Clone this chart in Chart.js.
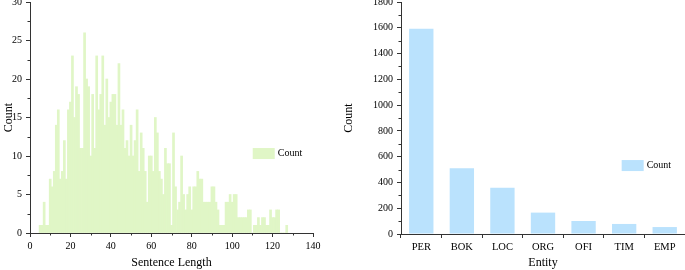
<!DOCTYPE html>
<html>
<head>
<meta charset="utf-8">
<script src="https://cdn.jsdelivr.net/npm/chart.js@4.4.1/dist/chart.umd.min.js"></script>
<style>
  html, body { margin: 0; padding: 0; background: #fff; }
  #wrap { position: relative; width: 685px; height: 270px; }
  #lenBox { position: absolute; left: 0; top: 0; width: 340px; height: 270px; }
  #entBox { position: absolute; left: 340px; top: 0; width: 345px; height: 270px; }
</style>
</head>
<body>
<div id="wrap">
  <div id="lenBox"><canvas id="len-chart"></canvas></div>
  <div id="entBox"><canvas id="entity-chart"></canvas></div>
</div>
<script>
// left: sentence length histogram
const sentenceLengths = [
  5, 6, 7, 8, 9, 10, 11, 12, 13, 14,
  15, 16, 17, 18, 19, 20, 21, 22, 23, 24,
  25, 26, 27, 28, 29, 30, 31, 32, 33, 34,
  35, 36, 37, 38, 39, 40, 41, 42, 43, 44,
  45, 46, 47, 48, 49, 50, 51, 52, 53, 54,
  55, 56, 57, 58, 59, 60, 61, 62, 63, 64,
  65, 66, 67, 68, 69, 70, 71, 72, 73, 74,
  75, 76, 77, 78, 79, 80, 81, 82, 83, 84,
  85, 86, 87, 88, 89, 90, 91, 92, 93, 94,
  95, 96, 97, 98, 99, 100, 101, 102, 103, 104,
  105, 106, 107, 108, 109, 110, 111, 112, 113, 114,
  115, 116, 117, 118, 119, 120, 121, 122, 123, 124,
  125, 126, 127
];
const lengthCounts = [
  1, 1, 4, 1, 1, 7, 6, 8, 14, 16,
  7, 8, 12, 7, 16, 17, 23, 15, 19, 18,
  11, 11, 26, 20, 19, 10, 18, 11, 23, 16,
  18, 23, 14, 20, 15, 17, 18, 18, 14, 22,
  14, 16, 11, 12, 10, 14, 10, 12, 16, 8,
  13, 11, 8, 4, 10, 10, 8, 15, 13, 8,
  7, 5, 11, 9, 9, 1, 13, 6, 3, 4,
  10, 5, 3, 5, 6, 3, 6, 6, 8, 7,
  7, 4, 4, 4, 4, 6, 6, 4, 3, 1,
  1, 1, 4, 4, 5, 4, 5, 5, 2, 2,
  2, 2, 2, 3, 3, 0, 1, 1, 2, 1,
  2, 2, 1, 1, 3, 2, 2, 3, 3, 0,
  0, 0, 1
];
const lengthXTicks = [0, 20, 40, 60, 80, 100, 120, 140];
const lengthXMinor = [10, 30, 50, 70, 90, 110, 130];
const lengthYTicks = [0, 5, 10, 15, 20, 25, 30];
const lengthYMinor = [2.5, 7.5, 12.5, 17.5, 22.5, 27.5];

// right: entity counts
const entityNames = ['PER', 'BOK', 'LOC', 'ORG', 'OFI', 'TIM', 'EMP'];
const entityCounts = [1592, 511, 358, 166, 101, 78, 54];
const entityYTicks = [0, 200, 400, 600, 800, 1000, 1200, 1400, 1600, 1800];
const entityYMinor = [100, 300, 500, 700, 900, 1100, 1300, 1500, 1700];

const AXIS = '#333';
const GREEN = '#e0f6c6';
const BLUE = '#bae2fd';

Chart.defaults.font.family = '"Liberation Serif", "Times New Roman", serif';
Chart.defaults.color = '#000';

// small outward ticks between the labelled ones
const minorTicks = {
  id: 'minorTicks',
  afterDraw(chart, args, opts) {
    const ctx = chart.ctx;
    const area = chart.chartArea;
    ctx.save();
    ctx.strokeStyle = AXIS;
    ctx.lineWidth = 1;
    (opts.x || []).forEach(v => {
      const px = Math.round(chart.scales.x.getPixelForValue(v)) + 0.5;
      ctx.beginPath();
      ctx.moveTo(px, area.bottom);
      ctx.lineTo(px, area.bottom + 2.5);
      ctx.stroke();
    });
    (opts.y || []).forEach(v => {
      const py = Math.round(chart.scales.y.getPixelForValue(v)) + 0.5;
      ctx.beginPath();
      ctx.moveTo(area.left, py);
      ctx.lineTo(area.left - 2.5, py);
      ctx.stroke();
    });
    ctx.restore();
  }
};

// legend box sitting inside the plot
const innerLegend = {
  id: 'innerLegend',
  afterDraw(chart, args, opts) {
    const ctx = chart.ctx;
    const area = chart.chartArea;
    const x = area.left + (area.right - area.left) * opts.fx;
    const y = area.top + (area.bottom - area.top) * opts.fy;
    ctx.save();
    ctx.fillStyle = opts.color;
    ctx.fillRect(x, y - 5.5, 22, 11);
    ctx.fillStyle = '#000';
    ctx.font = '10px "Liberation Serif", serif';
    ctx.textBaseline = 'middle';
    ctx.fillText(chart.data.datasets[0].label, x + 25, y);
    ctx.restore();
  }
};

function axisGrid() {
  return { drawOnChartArea: false, drawTicks: true, tickLength: 4, color: AXIS, lineWidth: 1 };
}

function noPad(s) {
  s.paddingTop = 0;
  s.paddingBottom = 0;
  s.paddingLeft = 0;
  s.paddingRight = 0;
}

const lenCanvas = document.getElementById('len-chart');
new Chart(lenCanvas.getContext('2d'), {
  type: 'bar',
  data: {
    datasets: [{
      label: 'Count',
      data: sentenceLengths.map((x, i) => ({ x: x, y: lengthCounts[i] })),
      backgroundColor: GREEN,
      borderWidth: 0,
      barPercentage: 1,
      categoryPercentage: 1
    }]
  },
  options: {
    responsive: true,
    maintainAspectRatio: false,
    animation: false,
    layout: { padding: { top: 2, right: 27, left: 0, bottom: 0 } },
    plugins: {
      legend: { display: false },
      tooltip: { enabled: false },
      minorTicks: { x: lengthXMinor, y: lengthYMinor },
      innerLegend: { fx: 0.787, fy: 0.656, color: GREEN }
    },
    scales: {
      x: {
        type: 'linear',
        offset: false,
        min: 0,
        max: 140,
        afterBuildTicks: s => { s.ticks = lengthXTicks.map(v => ({ value: v })); },
        afterFit: s => { s.height = 37; noPad(s); },
        grid: Object.assign(axisGrid(), { offset: false }),
        border: { display: true, color: AXIS, width: 1 },
        ticks: { font: { size: 10 }, padding: 3, maxRotation: 0 },
        title: { display: true, text: 'Sentence Length', font: { size: 12 }, padding: { top: 0, bottom: 0 } }
      },
      y: {
        min: 0,
        max: 30,
        afterBuildTicks: s => { s.ticks = lengthYTicks.map(v => ({ value: v })); },
        afterFit: s => { s.width = 30; noPad(s); },
        grid: axisGrid(),
        border: { display: true, color: AXIS, width: 1 },
        ticks: { font: { size: 10 }, padding: 4 },
        title: { display: true, text: 'Count', font: { size: 12 }, padding: { top: 2, bottom: 0 } }
      }
    }
  },
  plugins: [minorTicks, innerLegend]
});

const entCanvas = document.getElementById('entity-chart');
new Chart(entCanvas.getContext('2d'), {
  type: 'bar',
  data: {
    labels: entityNames,
    datasets: [{
      label: 'Count',
      data: entityCounts,
      backgroundColor: BLUE,
      borderWidth: 0,
      barPercentage: 0.6,
      categoryPercentage: 1
    }]
  },
  options: {
    responsive: true,
    maintainAspectRatio: false,
    animation: false,
    layout: { padding: { top: 2, right: 0, left: 0, bottom: 0 } },
    plugins: {
      legend: { display: false },
      tooltip: { enabled: false },
      minorTicks: { y: entityYMinor },
      innerLegend: { fx: 0.777, fy: 0.705, color: BLUE }
    },
    scales: {
      x: {
        afterFit: s => { s.height = 36; noPad(s); },
        grid: Object.assign(axisGrid(), { offset: true }),
        border: { display: true, color: AXIS, width: 1 },
        ticks: { font: { size: 10.5 }, padding: 3, maxRotation: 0 },
        title: { display: true, text: 'Entity', font: { size: 12 }, padding: { top: 0, bottom: 0 } }
      },
      y: {
        min: 0,
        max: 1800,
        afterBuildTicks: s => { s.ticks = entityYTicks.map(v => ({ value: v })); },
        afterFit: s => { s.width = 61; noPad(s); },
        grid: axisGrid(),
        border: { display: true, color: AXIS, width: 1 },
        ticks: { font: { size: 10 }, padding: 4, callback: v => String(v) },
        title: { display: true, text: 'Count', font: { size: 12 }, padding: { top: 2, bottom: 0 } }
      }
    }
  },
  plugins: [minorTicks, innerLegend]
});
</script>
</body>
</html>
